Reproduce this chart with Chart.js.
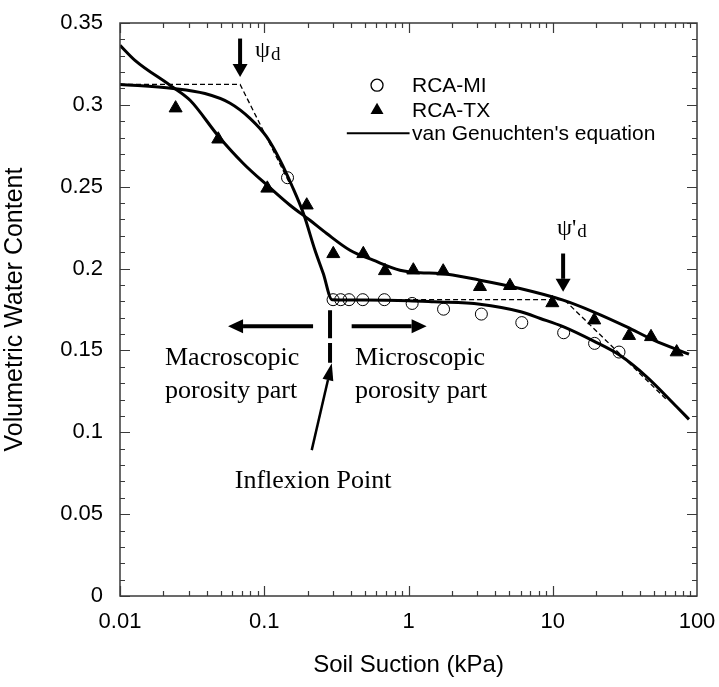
<!DOCTYPE html>
<html>
<head>
<meta charset="utf-8">
<script src="https://cdn.jsdelivr.net/npm/chart.js@4.4.1/dist/chart.umd.min.js"></script>
<style>
  html, body { margin: 0; padding: 0; background: #fff; }
  #wrap { width: 719px; height: 687px; }
</style>
</head>
<body>
<div id="wrap"><canvas id="swcc" width="719" height="687"></canvas></div>
<script>
// measured points (suction in kPa, volumetric water content)
const miSuction = [0.145, 0.30, 0.339, 0.387, 0.482, 0.68, 1.06, 1.75, 3.2, 6.1, 11.9, 19.5, 28.8];
const miTheta   = [0.2555, 0.181, 0.181, 0.181, 0.181, 0.181, 0.1787, 0.1752, 0.1722, 0.167, 0.1608, 0.1543, 0.149];
const txSuction = [0.0243, 0.048, 0.105, 0.197, 0.301, 0.486, 0.687, 1.08, 1.74, 3.13, 5.05, 9.93, 19.4, 33.8, 48, 72.3];
const txTheta   = [0.298, 0.279, 0.249, 0.2387, 0.209, 0.209, 0.1986, 0.199, 0.1984, 0.1889, 0.1895, 0.179, 0.1685, 0.159, 0.1583, 0.149];

// van Genuchten fits
const fitMiSuction = [0.01, 0.0234, 0.0388, 0.058, 0.08, 0.104, 0.1286, 0.155, 0.187, 0.2248, 0.2566, 0.295, 0.5, 1.0, 1.5, 3.13, 6.0, 8.2, 11.8, 19.1, 29.2, 44.8, 72.3, 88];
const fitMiTheta   = [0.3125, 0.310, 0.3069, 0.301, 0.2916, 0.2804, 0.2662, 0.2509, 0.2336, 0.2112, 0.197, 0.181, 0.1808, 0.1804, 0.1797, 0.1782, 0.1736, 0.1695, 0.1645, 0.1558, 0.147, 0.1339, 0.1156, 0.1079];
const fitTxSuction = [0.01, 0.0127, 0.0222, 0.0306, 0.048, 0.0716, 0.106, 0.151, 0.2075, 0.271, 0.393, 0.57, 0.873, 1.2, 1.65, 3.13, 5.93, 11.8, 19.1, 32.6, 50.1, 88];
const fitTxTheta   = [0.3364, 0.3272, 0.312, 0.3028, 0.281, 0.2642, 0.2505, 0.2387, 0.2295, 0.2214, 0.2112, 0.2051, 0.199, 0.1974, 0.197, 0.1929, 0.1878, 0.1807, 0.1736, 0.1644, 0.1563, 0.1477];

// construction lines for the two air-entry values
const airEntrySuction = [0.01, 0.068, 0.15];
const airEntryTheta   = [0.3125, 0.3125, 0.252];
const residualSuction = [0.3, 12, 62];
const residualTheta   = [0.181, 0.181, 0.1197];

const xLabels = [0.01, 0.1, 1, 10, 100];
const legendLabels = ['RCA-MI', 'RCA-TX', "van Genuchten's equation"];

const toXY = (xs, ys) => xs.map((x, i) => ({ x: x, y: ys[i] }));

const SANS = '"Liberation Sans", Arial, sans-serif';
const SERIF = '"Liberation Serif", "Times New Roman", serif';

function arrow(ctx, x1, y1, x2, y2, w, headLen, headW) {
  const a = Math.atan2(y2 - y1, x2 - x1);
  const bx = x2 - Math.cos(a) * headLen, by = y2 - Math.sin(a) * headLen;
  ctx.lineWidth = w;
  ctx.beginPath();
  ctx.moveTo(x1, y1);
  ctx.lineTo(bx, by);
  ctx.stroke();
  ctx.beginPath();
  ctx.moveTo(x2, y2);
  ctx.lineTo(bx + Math.sin(a) * headW / 2, by - Math.cos(a) * headW / 2);
  ctx.lineTo(bx - Math.sin(a) * headW / 2, by + Math.cos(a) * headW / 2);
  ctx.closePath();
  ctx.fill();
}

const framePlugin = {
  id: 'frame',
  afterDraw(chart) {
    const ctx = chart.ctx;
    const xs = chart.scales.x, ys = chart.scales.y;
    const { left, right, top, bottom } = chart.chartArea;
    const px = v => xs.getPixelForValue(v);
    const py = v => ys.getPixelForValue(v);

    ctx.save();
    // box
    ctx.strokeStyle = '#3a3a3a';
    ctx.lineWidth = 1.5;
    ctx.strokeRect(left, top, right - left, bottom - top);

    // inward ticks
    ctx.lineWidth = 1.2;
    ctx.beginPath();
    for (let i = 0; i <= 35; i++) {
      const y = Math.round(py(i / 100)) + 0.5;
      const len = i % 5 === 0 ? 10 : 5;
      ctx.moveTo(left, y); ctx.lineTo(left + len, y);
      ctx.moveTo(right, y); ctx.lineTo(right - len, y);
    }
    for (let e = -2; e <= 1; e++) {
      for (let m = 1; m <= 9; m++) {
        const x = Math.round(px(m * Math.pow(10, e))) + 0.5;
        const len = m === 1 ? 10 : 5;
        ctx.moveTo(x, bottom); ctx.lineTo(x, bottom - len);
        ctx.moveTo(x, top); ctx.lineTo(x, top + len);
      }
    }
    ctx.stroke();

    // legend
    ctx.fillStyle = '#000';
    ctx.strokeStyle = '#000';
    const lx = px(0.605);
    const rows = [py(0.312), py(0.2967), py(0.2827)];
    ctx.lineWidth = 1.3;
    ctx.beginPath();
    ctx.arc(lx, rows[0], 6, 0, Math.PI * 2);
    ctx.stroke();
    ctx.beginPath();
    ctx.moveTo(lx, rows[1] - 7.5);
    ctx.lineTo(lx + 6.5, rows[1] + 3.75);
    ctx.lineTo(lx - 6.5, rows[1] + 3.75);
    ctx.closePath();
    ctx.fill();
    ctx.lineWidth = 2;
    ctx.beginPath();
    ctx.moveTo(px(0.3736), rows[2]);
    ctx.lineTo(px(1.017), rows[2]);
    ctx.stroke();
    ctx.font = '21px ' + SANS;
    ctx.textBaseline = 'middle';
    ctx.textAlign = 'left';
    legendLabels.forEach((t, i) => ctx.fillText(t, px(1.058), rows[i] + 1));

    // air-entry arrows and labels
    ctx.fillStyle = '#000';
    ctx.strokeStyle = '#000';
    arrow(ctx, px(0.068), py(0.3405), px(0.068), py(0.317), 4, 13, 15);
    arrow(ctx, px(11.8), py(0.2092), px(11.8), py(0.1858), 4, 13, 15);

    ctx.textBaseline = 'alphabetic';
    ctx.font = '24px ' + SERIF;
    ctx.fillText('ψ', px(0.0863), py(0.3295));
    let w = ctx.measureText('ψ').width;
    ctx.font = '19px ' + SERIF;
    ctx.fillText('d', px(0.0863) + w + 1, py(0.3275));

    ctx.font = '24px ' + SERIF;
    ctx.fillText('ψ\'', px(10.7), py(0.2205));
    w = ctx.measureText('ψ\'').width;
    ctx.font = '19px ' + SERIF;
    ctx.fillText('d', px(10.7) + w + 1, py(0.2192));

    // macro / micro porosity split
    arrow(ctx, px(0.218), py(0.1648), px(0.0561), py(0.1648), 4, 15, 14);
    arrow(ctx, px(0.4036), py(0.1648), px(1.336), py(0.1648), 4, 15, 14);
    ctx.lineWidth = 4;
    ctx.beginPath();
    ctx.moveTo(px(0.2858), py(0.1746)); ctx.lineTo(px(0.2858), py(0.1575));
    ctx.moveTo(px(0.2858), py(0.1545)); ctx.lineTo(px(0.2858), py(0.1424));
    ctx.stroke();
    arrow(ctx, px(0.2134), py(0.0891), px(0.2938), py(0.1421), 2.5, 17, 11);

    ctx.font = '26px ' + SERIF;
    ctx.textAlign = 'left';
    ctx.fillText('Macroscopic', px(0.0205), py(0.141));
    ctx.fillText('porosity part', px(0.0205), py(0.1209));
    ctx.fillText('Microscopic', px(0.4256), py(0.141));
    ctx.fillText('porosity part', px(0.4256), py(0.1209));
    ctx.textAlign = 'center';
    ctx.fillText('Inflexion Point', px(0.218), py(0.0658));
    ctx.restore();
  }
};

new Chart(document.getElementById('swcc'), {
  type: 'scatter',
  data: {
    datasets: [
      {
        label: legendLabels[0],
        data: toXY(miSuction, miTheta),
        pointStyle: 'circle',
        pointRadius: 6,
        borderColor: '#000',
        backgroundColor: 'rgba(0,0,0,0)',
        borderWidth: 1,
        showLine: false
      },
      {
        label: legendLabels[1],
        data: toXY(txSuction, txTheta),
        pointStyle: 'triangle',
        pointRadius: 7.5,
        borderColor: '#000',
        backgroundColor: '#000',
        borderWidth: 1,
        showLine: false
      },
      {
        label: legendLabels[2],
        data: toXY(fitMiSuction, fitMiTheta),
        showLine: true,
        borderColor: '#000',
        borderWidth: 3,
        pointRadius: 0,
        cubicInterpolationMode: 'monotone'
      },
      {
        label: 'fit TX',
        data: toXY(fitTxSuction, fitTxTheta),
        showLine: true,
        borderColor: '#000',
        borderWidth: 3,
        pointRadius: 0,
        cubicInterpolationMode: 'monotone'
      },
      {
        label: 'air entry',
        data: toXY(airEntrySuction, airEntryTheta),
        showLine: true,
        borderColor: '#000',
        borderWidth: 1.3,
        borderDash: [5, 3],
        pointRadius: 0
      },
      {
        label: 'residual',
        data: toXY(residualSuction, residualTheta),
        showLine: true,
        borderColor: '#000',
        borderWidth: 1.3,
        borderDash: [5, 3],
        pointRadius: 0
      }
    ]
  },
  options: {
    responsive: false,
    animation: false,
    devicePixelRatio: 1,
    layout: { padding: { top: 23, right: 22, left: 0, bottom: 0 } },
    plugins: { legend: { display: false }, tooltip: { enabled: false } },
    scales: {
      x: {
        type: 'logarithmic',
        min: 0.01,
        max: 100,
        grid: { display: false, drawTicks: false },
        border: { display: false },
        afterFit: s => { s.height = 91; s.paddingLeft = 0; s.paddingRight = 0; },
        ticks: {
          autoSkip: false,
          maxRotation: 0,
          padding: 13,
          color: '#000',
          font: { family: SANS, size: 22 },
          callback: v => {
            const hit = xLabels.find(l => Math.abs(l - v) < l * 1e-6);
            return hit === undefined ? '' : String(hit);
          }
        },
        title: {
          display: true,
          text: 'Soil Suction (kPa)',
          color: '#000',
          font: { family: SANS, size: 24 },
          padding: { top: 0, bottom: 7 }
        }
      },
      y: {
        min: 0,
        max: 0.35,
        grid: { display: false, drawTicks: false },
        border: { display: false },
        afterFit: s => { s.width = 120; s.paddingTop = 0; s.paddingBottom = 0; },
        ticks: {
          stepSize: 0.05,
          autoSkip: false,
          padding: 17,
          color: '#000',
          font: { family: SANS, size: 22 },
          callback: v => String(+v.toFixed(2))
        },
        title: {
          display: true,
          text: 'Volumetric Water Content',
          color: '#000',
          font: { family: SANS, size: 25 },
          padding: { top: 0, bottom: 9 }
        }
      }
    }
  },
  plugins: [framePlugin]
});
</script>
</body>
</html>
